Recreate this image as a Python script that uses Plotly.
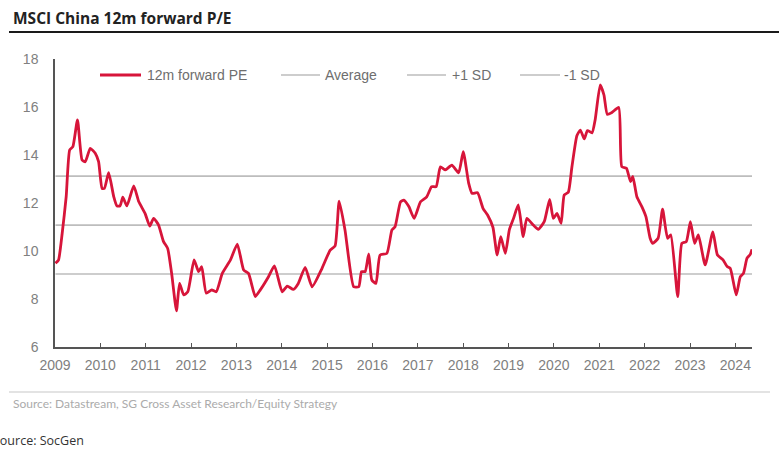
import plotly.graph_objects as go

# ---- data ----
dates = [
    "2009-01-05", "2009-01-29", "2009-02-28", "2009-04-01", "2009-04-29", "2009-05-25",
    "2009-07-01", "2009-08-07", "2009-09-02", "2009-10-12", "2009-11-21", "2009-12-18",
    "2010-01-15", "2010-02-03", "2010-03-09", "2010-04-19", "2010-05-14", "2010-06-09",
    "2010-07-01", "2010-08-03", "2010-09-27", "2010-11-07", "2010-12-27",
    "2011-02-03", "2011-03-06", "2011-04-15", "2011-05-25", "2011-06-27", "2011-07-29",
    "2011-09-06", "2011-10-01", "2011-11-03", "2011-12-06",
    "2012-01-26", "2012-03-02", "2012-03-27", "2012-05-03", "2012-06-16", "2012-07-22",
    "2012-09-09", "2012-11-14",
    "2013-01-08", "2013-02-28", "2013-04-08", "2013-06-02", "2013-07-12", "2013-09-16",
    "2013-11-03",
    "2014-01-04", "2014-02-14", "2014-04-04", "2014-05-14", "2014-07-08", "2014-09-02",
    "2014-11-21",
    "2015-01-26", "2015-03-06", "2015-04-08", "2015-05-25", "2015-08-03", "2015-09-13",
    "2015-10-05", "2015-11-03", "2015-12-02", "2015-12-27",
    "2016-01-29", "2016-03-02", "2016-04-26", "2016-06-06", "2016-07-01", "2016-08-14",
    "2016-09-09", "2016-10-20", "2016-12-02",
    "2017-01-22", "2017-03-13", "2017-04-22", "2017-05-28", "2017-07-01", "2017-08-10",
    "2017-10-01", "2017-11-25",
    "2018-01-01", "2018-02-14", "2018-03-13", "2018-04-26", "2018-06-09", "2018-07-16",
    "2018-08-28", "2018-10-01", "2018-10-30", "2018-12-06",
    "2019-01-08", "2019-02-10", "2019-03-20", "2019-04-29", "2019-05-28", "2019-07-19",
    "2019-08-28", "2019-10-15", "2019-11-28", "2019-12-27",
    "2020-01-26", "2020-02-28", "2020-03-24", "2020-04-26", "2020-05-25", "2020-07-04",
    "2020-08-01", "2020-09-02", "2020-09-27", "2020-11-03", "2020-11-28",
    "2021-01-08", "2021-02-07", "2021-03-06", "2021-04-12", "2021-06-06", "2021-07-01",
    "2021-08-07", "2021-09-09", "2021-09-27", "2021-10-30", "2021-12-09",
    "2022-01-11", "2022-02-14", "2022-03-06", "2022-04-19", "2022-05-25", "2022-07-04",
    "2022-07-30", "2022-09-24", "2022-10-27", "2022-12-02",
    "2023-01-04", "2023-02-07", "2023-03-09", "2023-05-03", "2023-07-04", "2023-08-10",
    "2023-09-24", "2023-10-27", "2023-11-21",
    "2024-01-08", "2024-02-10", "2024-03-06", "2024-04-04", "2024-04-30", "2024-05-14",
]
pe_values = [
    9.49, 9.62, 10.74, 12.26, 14.21, 14.35,
    15.46, 13.79, 13.72, 14.28, 14.07, 13.72,
    12.61, 12.61, 13.26, 12.26, 11.88, 11.88,
    12.24, 11.88, 12.71, 12.05, 11.57,
    11.04, 11.36, 11.08, 10.39, 10.11, 9.07,
    7.51, 8.65, 8.17, 8.30,
    9.63, 9.14, 9.35, 8.24, 8.38, 8.30,
    9.07, 9.63,
    10.29, 9.21, 9.07, 8.10, 8.38, 8.93,
    9.38,
    8.30, 8.54, 8.40, 8.65, 9.32, 8.51,
    9.28,
    10.04, 10.21, 12.08, 10.88, 8.51, 8.51,
    9.14, 9.14, 9.88, 8.79,
    8.65, 9.83, 9.90, 10.88, 11.01, 12.05,
    12.12, 11.85, 11.36,
    12.05, 12.26, 12.68, 12.68, 13.51, 13.38,
    13.58, 13.26,
    14.14, 12.82, 12.40, 12.43, 11.78, 11.50,
    10.99, 9.83, 10.60, 9.90,
    10.90, 11.36, 11.92, 10.60, 11.36, 11.08,
    10.90, 11.22, 12.15, 11.36,
    11.57, 11.15, 12.33, 12.45, 13.50, 14.80,
    15.04, 14.67, 15.02, 14.92, 15.46,
    16.92, 16.50, 15.69, 15.77, 15.98, 13.51,
    13.45, 12.89, 13.11, 12.26, 11.85,
    11.43, 10.53, 10.32, 10.53, 11.74, 10.53,
    10.67, 8.10, 10.32, 10.39,
    11.22, 10.32, 10.67, 9.42, 10.80, 9.83,
    9.63, 9.35, 9.28,
    8.17, 8.93, 9.07, 9.70, 9.86, 10.07,
]
average_pe = 11.08
plus_1sd = 13.12
minus_1sd = 9.04
series_names = ["12m forward PE", "Average", "+1 SD", "-1 SD"]
y_ticks = [6, 8, 10, 12, 14, 16, 18]
title_text = "MSCI China 12m forward P/E"
source_text = "Source: Datastream, SG Cross Asset Research/Equity Strategy"
footer_text = "Source: SocGen"

RED = "#D7153A"
GREY_LINE = "#BDBDBD"
series_colors = [RED, GREY_LINE, GREY_LINE, GREY_LINE]
series_widths = [2.8, 1.6, 1.6, 1.6]

W, H = 779, 450
ml, mr, mt, mb = 55, 27, 59, 103
pw, ph = W - ml - mr, H - mt - mb

def px_x(p):
    return (p - ml) / pw

def px_y(p):
    return (H - mb - p) / ph

fig = go.Figure()
for name, level in zip(series_names[1:], [average_pe, plus_1sd, minus_1sd]):
    fig.add_trace(go.Scatter(
        x=[dates[0], dates[-1]], y=[level, level], name=name, mode="lines",
        line=dict(color=GREY_LINE, width=1.6), showlegend=False,
    ))
fig.add_trace(go.Scatter(
    x=dates, y=pe_values, name=series_names[0], mode="lines",
    line=dict(color=RED, width=2.8, shape="spline", smoothing=0.5), showlegend=False,
))

# legend drawn as sample lines + text (matches reference spacing)
legend_line_px = [(100, 141), (281, 320), (407, 446), (520, 560)]
legend_text_px = [145, 323, 450, 562]
legend_y = 75
shapes = [
    dict(type="line", xref="paper", yref="paper", x0=px_x(9), x1=px_x(779),
         y0=px_y(32), y1=px_y(32), line=dict(color="#1A1A1A", width=2)),
    dict(type="line", xref="paper", yref="paper", x0=px_x(9), x1=px_x(770),
         y0=px_y(392), y1=px_y(392), line=dict(color="#C8C8C8", width=1.2)),
]
annotations = [
    dict(text=f"<b>{title_text}</b>", xref="paper", yref="paper", x=px_x(11), y=px_y(18),
         xanchor="left", yanchor="middle", showarrow=False,
         font=dict(family="Open Sans, sans-serif", size=15.5, color="#222222")),
    dict(text=source_text, xref="paper", yref="paper", x=px_x(11), y=px_y(403),
         xanchor="left", yanchor="middle", showarrow=False,
         font=dict(family="Lato, sans-serif", size=12, color="#ABABAB")),
    dict(text=footer_text, xref="paper", yref="paper", x=px_x(-9), y=px_y(440),
         xanchor="left", yanchor="middle", showarrow=False,
         font=dict(family="Open Sans, sans-serif", size=12.5, color="#333333")),
]
for name, col, wd, (a, b), tx in zip(series_names, series_colors, series_widths,
                                      legend_line_px, legend_text_px):
    shapes.append(dict(type="line", xref="paper", yref="paper", x0=px_x(a), x1=px_x(b),
                       y0=px_y(legend_y), y1=px_y(legend_y), line=dict(color=col, width=wd)))
    annotations.append(dict(text=name, xref="paper", yref="paper", x=px_x(tx), y=px_y(legend_y),
                            xanchor="left", yanchor="middle", showarrow=False,
                            font=dict(family="Liberation Sans, Arial, sans-serif",
                                      size=14, color="#6E6E6E")))

fig.update_layout(
    width=W, height=H,
    margin=dict(l=ml, r=mr, t=mt, b=mb, pad=0),
    paper_bgcolor="white", plot_bgcolor="white",
    font=dict(family="Liberation Sans, Arial, sans-serif", color="#7A7A7A", size=14),
    showlegend=False,
    xaxis=dict(
        type="date", range=["2009-01-01", dates[-1]],
        tick0="2009-01-01", dtick="M12", tickformat="%Y",
        showgrid=False, zeroline=False,
        showline=True, linecolor="#555555", linewidth=1.5,
        ticks="inside", ticklen=4, tickwidth=1.2, tickcolor="#555555",
        tickfont=dict(size=14, color="#808080"), ticklabelstandoff=4,
    ),
    yaxis=dict(
        range=[6, 18], tickvals=y_ticks,
        showgrid=False, zeroline=False,
        showline=True, linecolor="#555555", linewidth=1.5,
        ticks="", tickfont=dict(size=14, color="#808080"), ticklabelstandoff=12,
    ),
    shapes=shapes,
    annotations=annotations,
)

fig.write_html("out.html", config={"displayModeBar": False},
               post_script="document.body.style.margin='0';")
